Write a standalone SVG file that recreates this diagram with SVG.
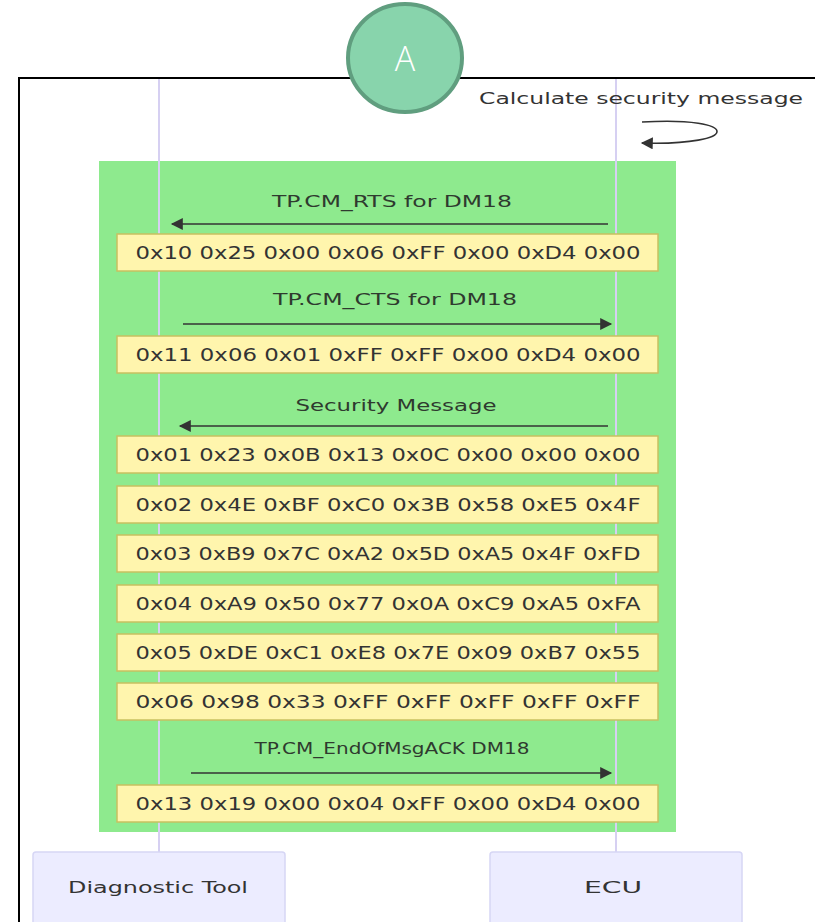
<svg xmlns="http://www.w3.org/2000/svg" width="815" height="922" viewBox="0 0 815 922">
<defs>
<style>
.t{font-family:"DejaVu Sans","Liberation Sans",sans-serif;fill:#333;}
.box{fill:#fff5ad;stroke:#c8c060;stroke-width:1.5;}
.boxt{font-size:17px;text-anchor:middle;}
.lbl{font-size:16px;text-anchor:middle;fill:#2f3a2f;}
.msg{stroke:#333;stroke-width:1.6;fill:none;}
.life{stroke:#d6d0f2;stroke-width:2;}
.actor{fill:#ececff;stroke:#d6d6f5;stroke-width:1.5;}
</style>
<marker id="ah" viewBox="0 0 10 10" refX="9" refY="5" markerWidth="10" markerHeight="8" markerUnits="userSpaceOnUse" orient="auto">
<path d="M0,0 L10,5 L0,10 z" fill="#333"/>
</marker>
<marker id="ah2" viewBox="0 0 10 10" refX="9" refY="5" markerWidth="18" markerHeight="12" markerUnits="userSpaceOnUse" orient="auto">
<path d="M0,0 L10,5 L0,10 z" fill="#333"/>
</marker>
</defs>
<rect width="815" height="922" fill="#fff"/>
<rect x="19" y="78" width="900" height="900" fill="#fff" stroke="#000" stroke-width="2"/>
<g id="loop">
<rect x="99" y="161" width="577" height="671" fill="#8eea8e"/>
</g>
<g id="lifelines">
<line class="life" x1="159" y1="79" x2="159" y2="852"/>
<line class="life" x1="616" y1="79" x2="616" y2="852"/>
</g>
<g id="connectors">
<path class="msg" d="M642,122 C742,116 742,146 642,143" marker-end="url(#ah2)"/>
<line class="msg" x1="608" y1="224" x2="172" y2="224" marker-end="url(#ah2)"/>
<line class="msg" x1="183" y1="324" x2="611" y2="324" marker-end="url(#ah2)"/>
<line class="msg" x1="608" y1="426" x2="180" y2="426" marker-end="url(#ah2)"/>
<line class="msg" x1="191" y1="773" x2="611" y2="773" marker-end="url(#ah2)"/>
</g>
<g id="labels">
<text class="t" x="641" y="104" font-size="16" text-anchor="middle" textLength="324" lengthAdjust="spacingAndGlyphs">Calculate security message</text>
<text class="t lbl" x="392" y="207" textLength="240" lengthAdjust="spacingAndGlyphs">TP.CM_RTS for DM18</text>
<text class="t lbl" x="395" y="305" textLength="244" lengthAdjust="spacingAndGlyphs">TP.CM_CTS for DM18</text>
<text class="t lbl" x="396" y="411" textLength="201" lengthAdjust="spacingAndGlyphs">Security Message</text>
<text class="t lbl" x="392" y="754" textLength="275" lengthAdjust="spacingAndGlyphs">TP.CM_EndOfMsgACK DM18</text>
</g>
<g id="frame1"><rect class="box" x="117" y="234" width="541" height="37"/><text class="t boxt" x="388" y="259" textLength="505" lengthAdjust="spacingAndGlyphs">0x10 0x25 0x00 0x06 0xFF 0x00 0xD4 0x00</text></g>
<g id="frame2"><rect class="box" x="117" y="336" width="541" height="37"/><text class="t boxt" x="388" y="361" textLength="505" lengthAdjust="spacingAndGlyphs">0x11 0x06 0x01 0xFF 0xFF 0x00 0xD4 0x00</text></g>
<g id="frame3"><rect class="box" x="117" y="436" width="541" height="37"/><text class="t boxt" x="388" y="461" textLength="505" lengthAdjust="spacingAndGlyphs">0x01 0x23 0x0B 0x13 0x0C 0x00 0x00 0x00</text></g>
<g id="frame4"><rect class="box" x="117" y="486" width="541" height="37"/><text class="t boxt" x="388" y="511" textLength="505" lengthAdjust="spacingAndGlyphs">0x02 0x4E 0xBF 0xC0 0x3B 0x58 0xE5 0x4F</text></g>
<g id="frame5"><rect class="box" x="117" y="535" width="541" height="37"/><text class="t boxt" x="388" y="560" textLength="505" lengthAdjust="spacingAndGlyphs">0x03 0xB9 0x7C 0xA2 0x5D 0xA5 0x4F 0xFD</text></g>
<g id="frame6"><rect class="box" x="117" y="585" width="541" height="37"/><text class="t boxt" x="388" y="610" textLength="505" lengthAdjust="spacingAndGlyphs">0x04 0xA9 0x50 0x77 0x0A 0xC9 0xA5 0xFA</text></g>
<g id="frame7"><rect class="box" x="117" y="634" width="541" height="37"/><text class="t boxt" x="388" y="659" textLength="505" lengthAdjust="spacingAndGlyphs">0x05 0xDE 0xC1 0xE8 0x7E 0x09 0xB7 0x55</text></g>
<g id="frame8"><rect class="box" x="117" y="683" width="541" height="37"/><text class="t boxt" x="388" y="708" textLength="505" lengthAdjust="spacingAndGlyphs">0x06 0x98 0x33 0xFF 0xFF 0xFF 0xFF 0xFF</text></g>
<g id="frame9"><rect class="box" x="117" y="785" width="541" height="37"/><text class="t boxt" x="388" y="810" textLength="505" lengthAdjust="spacingAndGlyphs">0x13 0x19 0x00 0x04 0xFF 0x00 0xD4 0x00</text></g>
<g id="diagnostic-tool"><rect class="actor" x="33" y="852" width="252" height="90" rx="3"/><text class="t" x="158" y="893" font-size="16" text-anchor="middle" textLength="180" lengthAdjust="spacingAndGlyphs">Diagnostic Tool</text></g>
<g id="ecu"><rect class="actor" x="490" y="852" width="252" height="90" rx="3"/><text class="t" x="613" y="893" font-size="16" text-anchor="middle" textLength="58" lengthAdjust="spacingAndGlyphs">ECU</text></g>
<g id="badge-a">
<ellipse cx="405" cy="58" rx="57" ry="54" fill="#88d4ac" stroke="#609e7f" stroke-width="4"/>
<text x="405" y="71" font-family="'Open Sans','DejaVu Sans',sans-serif" font-size="34" font-weight="300" fill="#fff" text-anchor="middle">A</text>
</g>
</svg>
